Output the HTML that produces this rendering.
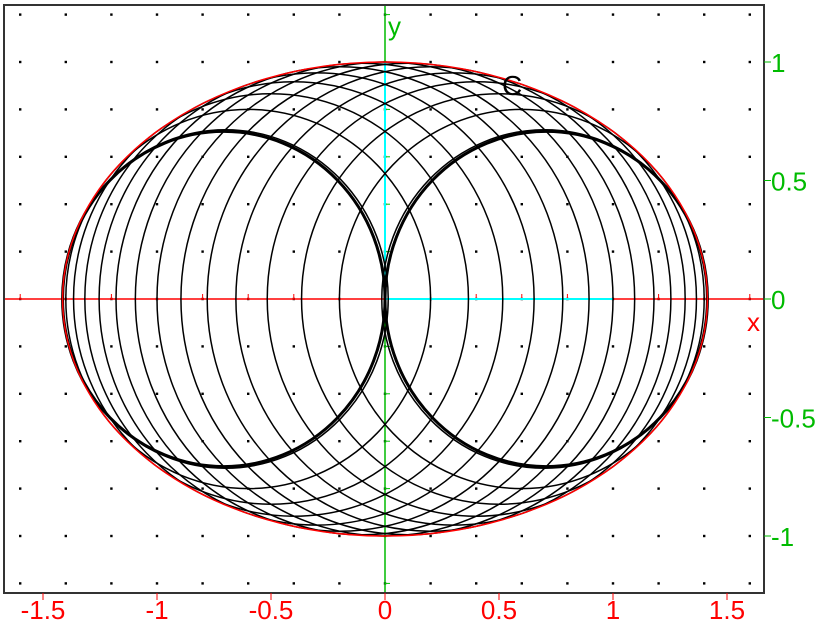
<!DOCTYPE html>
<html><head><meta charset="utf-8"><style>
html,body{margin:0;padding:0;background:#fff;width:828px;height:628px;overflow:hidden}
svg{display:block;font-family:"Liberation Sans",sans-serif}
</style></head><body>
<svg id="chart" width="828" height="628"></svg>
<script>
const centers=[-0.7,-0.6,-0.5,-0.4,-0.3,-0.2,-0.1,0,0.1,0.2,0.3,0.4,0.5,0.6,0.7];
const thickCenters=[-0.7071,0.7071];
const xTicks=[-1.5,-1,-0.5,0,0.5,1,1.5];
const xTickLabels=["-1.5","-1","-0.5","0","0.5","1","1.5"];
const yTicks=[1,0.5,0,-0.5,-1];
const yTickLabels=["1","0.5","0","-0.5","-1"];
const ellipseA=[1.41421];
const ellipseB=[1];

const NS="http://www.w3.org/2000/svg";
const svg=document.getElementById('chart');
const X0=385,SX=228,Y0=299,SY=237;
const fx=v=>X0+v*SX, fy=v=>Y0-v*SY;
const L=4,R=764,T=5,B=593;
function mk(tag,attrs,parent){const e=document.createElementNS(NS,tag);for(const k in attrs)e.setAttribute(k,attrs[k]);(parent||svg).appendChild(e);return e;}

const dots=mk('g',{});


for(let i=-8;i<=8;i++){for(let j=-6;j<=6;j++){const px=fx(i*0.2),py=fy(j*0.2);
 if(px>L+5&&px<R-5&&py>T+5&&py<B-5) mk('rect',{x:px-1.2,y:py-1.2,width:2.4,height:2.4,fill:'#000'},dots);}}

const xa=mk('line',{x1:L,x2:R,y1:Y0,y2:Y0,stroke:'#f00','stroke-width':1.5});


for(let i=-8;i<=8;i++){mk('line',{x1:fx(i*0.2),x2:fx(i*0.2),y1:Y0-5,y2:Y0,stroke:'#f00','stroke-width':1});}
const ya=mk('line',{x1:X0,x2:X0,y1:T,y2:B,stroke:'#0b0','stroke-width':1.5});


for(let j=-6;j<=6;j++){mk('line',{x1:X0,x2:X0+5,y1:fy(j*0.2),y2:fy(j*0.2),stroke:'#0b0','stroke-width':1});}
mk('line',{x1:X0,x2:fx(1),y1:Y0,y2:Y0,stroke:'#0ff','stroke-width':2});
mk('line',{x1:X0,x2:X0,y1:Y0,y2:fy(1),stroke:'#0ff','stroke-width':2});

const cg=mk('g',{fill:'none',stroke:'#000'});


centers.forEach(c=>{const r=Math.sqrt(1-c*c);
 const e=mk('ellipse',{cx:fx(c),cy:Y0,rx:r*SX,ry:r*SY,'stroke-width':1.5},cg);
 
 });
thickCenters.forEach(c=>{const r=Math.sqrt(1-c*c);
 const e=mk('ellipse',{cx:fx(c),cy:Y0,rx:r*SX,ry:r*SY,'stroke-width':3},cg);
 
 });

const el=mk('ellipse',{cx:X0,cy:Y0,rx:ellipseA[0]*SX,ry:ellipseB[0]*SY,fill:'none',stroke:'#f00','stroke-width':1.5});



const fr=mk('rect',{x:L,y:T,width:R-L,height:B-T,fill:'none',stroke:'#333','stroke-width':2});



xTicks.forEach((v,i)=>{mk('line',{x1:fx(v),x2:fx(v),y1:B,y2:B+7,stroke:'#f00','stroke-width':1});
 const t=mk('text',{x:fx(v),y:619,'text-anchor':'middle',fill:'#f00','font-size':26});
 t.textContent=xTickLabels[i];
 
 });
yTicks.forEach((v,i)=>{mk('line',{x1:R,x2:R+7,y1:fy(v),y2:fy(v),stroke:'#0b0','stroke-width':1});
 const t=mk('text',{x:771,y:fy(v)+10,fill:'#0b0','font-size':26});
 t.textContent=yTickLabels[i];
 
 });

const xl=mk('text',{x:747,y:331,fill:'#f00','font-size':26});xl.textContent='x';


const yl=mk('text',{x:388,y:35,fill:'#0b0','font-size':26});yl.textContent='y';


const cl=mk('text',{x:502,y:95,fill:'#000','font-size':28});cl.textContent='C';


</script>
</body></html>
